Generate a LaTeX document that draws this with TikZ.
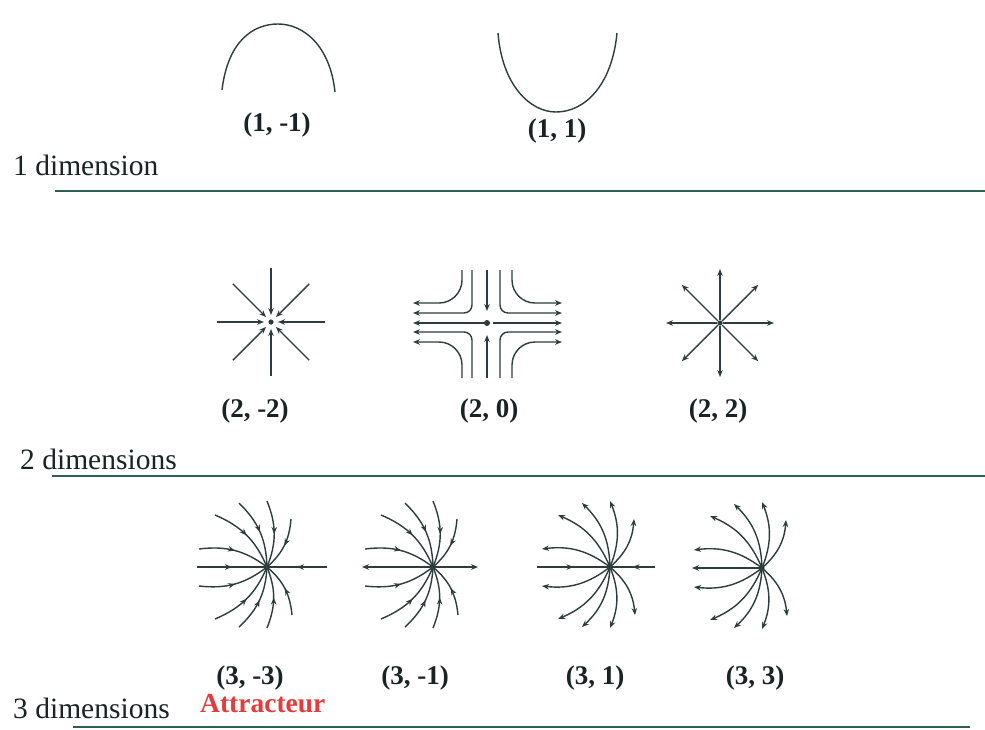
\documentclass[tikz,border=0pt]{standalone}
\usepackage{fontspec}
\setmainfont{Liberation Serif}
\usetikzlibrary{arrows.meta,decorations.markings}
\definecolor{sepcol}{RGB}{45,95,85}
\definecolor{figcol}{RGB}{45,60,60}
\definecolor{txtcol}{RGB}{25,35,35}
\definecolor{redcol}{RGB}{228,60,60}
\tikzset{
  fig/.style={draw=figcol,line width=1.4pt},
  sepline/.style={draw=sepcol,line width=1.8pt},
  lbl/.style={text=txtcol,font=\fontsize{27}{30}\selectfont\bfseries,inner sep=0pt},
  dimlbl/.style={text=txtcol,font=\fontsize{29.5}{32}\selectfont,inner sep=0pt,anchor=base west},
  tip/.style={-{Stealth[length=7pt,width=5.5pt]}},
  inmid/.style={postaction={decorate},decoration={markings,mark=at position 0.5 with {\arrowreversed{Stealth[length=7pt,width=5.5pt]}}}},
  dot/.style={fill=figcol}
}
\newcommand\brooma[3]{% center x, center y, curve style
  \begin{scope}[shift={(#1,#2)}]
    \foreach \dx/\dy in {-52/52,-28/64,0/66,24/48,-68/18}
      \draw[fig,#3] (0,0) to[bend right=22] (\dx,\dy);
    \foreach \dx/\dy in {-52/-52,-28/-60,0/-61,25/-48,-68/-19}
      \draw[fig,#3] (0,0) to[bend left=22] (\dx,\dy);
    \fill[dot] (0,0) circle (2.6);
  \end{scope}}
\begin{document}
\begin{tikzpicture}[x=1pt,y=1pt]
\path[use as bounding box,fill=white] (0,0) rectangle (985,-729);

% ---------- 1 dimension ----------
\draw[fig] (222,-90) .. controls (228,-40) and (254,-24) .. (278,-24) .. controls (303,-24) and (330,-45) .. (335,-92);
\draw[fig] (498,-33) .. controls (502,-85) and (530,-112) .. (556,-112) .. controls (585,-112) and (612,-85) .. (617,-33);
\node[lbl] (l11m) at (277,-125) {(1, -1)};
\node[lbl] (l11p) at (557,-131) {(1, 1)};
\node[dimlbl] (d1) at (13,-175) {1 dimension};
\coordinate (s1a) at (55,-191);
\coordinate (s1b) at (985,-191);
\draw[sepline] (s1a) -- (s1b);

% ---------- 2 dimensions ----------
% (2,-2) stable star
\begin{scope}[shift={(271,-322)}]
  \foreach \a in {0,45,...,315}
    \draw[fig,tip] (\a:54) -- (\a:7);
  \fill[dot] (0,0) circle (2.6);
\end{scope}
% (2,0) saddle-like
\draw[fig,tip,rounded corners=23pt] (462,-270) -- (462,-303) -- (413,-303);
\draw[fig,tip,rounded corners=8pt] (472,-270) -- (472,-313) -- (413,-313);
\draw[fig,tip] (487,-323) -- (413,-323);
\draw[fig,tip,rounded corners=8pt] (472,-378) -- (472,-332) -- (413,-332);
\draw[fig,tip,rounded corners=23pt] (462,-378) -- (462,-342) -- (413,-342);
\draw[fig,tip,rounded corners=23pt] (512,-270) -- (512,-303) -- (562,-303);
\draw[fig,tip,rounded corners=8pt] (500,-270) -- (500,-313) -- (562,-313);
\draw[fig,tip] (493,-323) -- (562,-323);
\draw[fig,tip,rounded corners=8pt] (500,-378) -- (500,-332) -- (562,-332);
\draw[fig,tip,rounded corners=23pt] (512,-378) -- (512,-342) -- (562,-342);
\draw[fig,tip] (487,-270) -- (487,-311);
\draw[fig,tip] (487,-378) -- (487,-335);
\fill[dot] (487,-323) circle (3);
% (2,2) unstable star
\begin{scope}[shift={(720,-323)}]
  \foreach \a in {0,45,...,315}
    \draw[fig,tip] (\a:3) -- (\a:54);
  \fill[dot] (0,0) circle (2.6);
\end{scope}
\node[lbl] (l22m) at (255,-411) {(2, -2)};
\node[lbl] (l20) at (489,-411) {(2, 0)};
\node[lbl] (l22p) at (718,-411) {(2, 2)};
\node[dimlbl] (d2) at (20,-469) {2 dimensions};
\coordinate (s2a) at (52,-476);
\coordinate (s2b) at (985,-476);
\draw[sepline] (s2a) -- (s2b);

% ---------- 3 dimensions ----------
% (3,-3)
\brooma{267}{-567}{inmid}
\draw[fig,inmid] (267,-567) -- (197,-567);
\draw[fig,inmid] (267,-567) -- (327,-567);
% (3,-1)
\brooma{433}{-567}{inmid}
\draw[fig,{Stealth[length=7pt,width=5.5pt]}-{Stealth[length=7pt,width=5.5pt]}] (362,-567) -- (478,-567);
% (3,1)
\brooma{610}{-567}{tip}
\draw[fig,inmid] (610,-567) -- (537,-567);
\draw[fig,inmid] (610,-567) -- (655,-567);
% (3,3)
\brooma{762}{-568}{tip}
\draw[fig,tip] (762,-568) -- (692,-568);

\node[lbl] (l33m) at (250,-678) {(3, -3)};
\node[lbl] (l31m) at (415,-678) {(3, -1)};
\node[lbl] (l31p) at (595,-678) {(3, 1)};
\node[lbl] (l33p) at (755,-678) {(3, 3)};
\node[dimlbl,text=redcol,font=\fontsize{27.5}{30}\selectfont\bfseries] (attr) at (200,-712) {Attracteur};
\node[dimlbl] (d3) at (13,-718) {3 dimensions};
\coordinate (s3a) at (73,-727);
\coordinate (s3b) at (970,-727);
\draw[sepline] (s3a) -- (s3b);
\end{tikzpicture}
\end{document}
